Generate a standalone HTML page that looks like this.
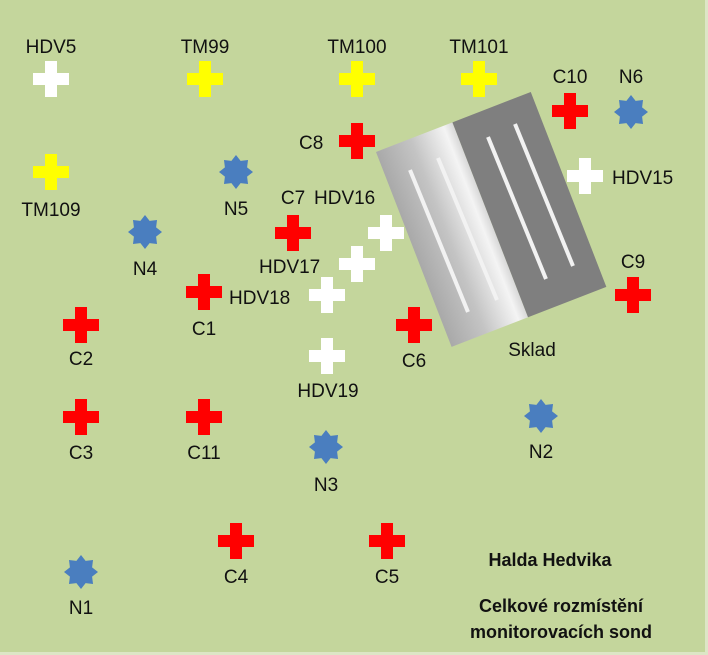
<!DOCTYPE html>
<html><head><meta charset="utf-8"><style>
html,body{margin:0;padding:0;background:#c4d69c;}
svg{display:block}
text{font-family:"Liberation Sans",sans-serif;font-size:19px;fill:#111;}
.b{font-weight:bold;font-size:18px}
</style></head><body>
<svg width="708" height="655" viewBox="0 0 708 655" xmlns="http://www.w3.org/2000/svg">
<defs>
<path id="cr" d="M-6,-18H6V-6H18V6H6V18H-6V6H-18V-6H-6Z"/>
<polygon id="st" points="0,-17 4.59,-11.09 12.02,-12.02 11.09,-4.59 17,0 11.09,4.59 12.02,12.02 4.59,11.09 0,17 -4.59,11.09 -12.02,12.02 -11.09,4.59 -17,0 -11.09,-4.59 -12.02,-12.02 -4.59,-11.09"/>
<linearGradient id="lg" x1="0" y1="0" x2="1" y2="0">
<stop offset="0" stop-color="#a9a9a9"/><stop offset="0.45" stop-color="#c4c4c4"/><stop offset="0.88" stop-color="#f4f4f4"/><stop offset="1" stop-color="#d8d8d8"/>
</linearGradient>
</defs>
<rect width="708" height="655" fill="#c4d69c"/>
<rect x="705" y="0" width="3" height="655" fill="#dde6c6"/>
<rect x="0" y="652" width="708" height="3" fill="#dde6c6"/>

<g transform="translate(376,152) rotate(-21.2)">
<rect x="0" y="0" width="82" height="209" fill="url(#lg)"/>
<rect x="82" y="0" width="84" height="209" fill="#7f7f7f"/>
</g>
<g stroke="#f2f2f2" stroke-width="4" stroke-linecap="butt">
<line x1="410" y1="170" x2="468" y2="312"/>
<line x1="438" y1="158" x2="497" y2="300"/>
<line x1="488" y1="137" x2="546" y2="279"/>
<line x1="515" y1="124" x2="573" y2="266"/>
</g>

<g fill="#ffffff">
<use href="#cr" x="51" y="79"/><use href="#cr" x="585" y="176"/><use href="#cr" x="386" y="233"/>
<use href="#cr" x="357" y="264"/><use href="#cr" x="327" y="295"/><use href="#cr" x="327" y="356"/>
</g>
<g fill="#ffff00">
<use href="#cr" x="205" y="79"/><use href="#cr" x="357" y="79"/><use href="#cr" x="479" y="79"/><use href="#cr" x="51" y="172"/>
</g>
<g fill="#ff0000">
<use href="#cr" x="570" y="111"/><use href="#cr" x="357" y="141"/><use href="#cr" x="293" y="233"/>
<use href="#cr" x="204" y="292"/><use href="#cr" x="633" y="295"/><use href="#cr" x="81" y="325"/>
<use href="#cr" x="414" y="325"/><use href="#cr" x="81" y="417"/><use href="#cr" x="204" y="417"/>
<use href="#cr" x="236" y="541"/><use href="#cr" x="387" y="541"/>
</g>
<g fill="#4a7ebf">
<use href="#st" x="631" y="112"/><use href="#st" x="236" y="172"/><use href="#st" x="145" y="232"/>
<use href="#st" x="541" y="416"/><use href="#st" x="326" y="447"/><use href="#st" x="81" y="572"/>
</g>

<g text-anchor="middle">
<text x="51" y="53">HDV5</text>
<text x="205" y="53">TM99</text>
<text x="357" y="53">TM100</text>
<text x="479" y="53">TM101</text>
<text x="570" y="83">C10</text>
<text x="631" y="83">N6</text>
<text x="51" y="216">TM109</text>
<text x="236" y="215">N5</text>
<text x="145" y="275">N4</text>
<text x="293" y="204">C7</text>
<text x="204" y="335">C1</text>
<text x="633" y="268">C9</text>
<text x="81" y="365">C2</text>
<text x="414" y="367">C6</text>
<text x="328" y="397">HDV19</text>
<text x="81" y="459">C3</text>
<text x="204" y="459">C11</text>
<text x="541" y="458">N2</text>
<text x="326" y="491">N3</text>
<text x="236" y="583">C4</text>
<text x="387" y="583">C5</text>
<text x="81" y="614">N1</text>
<text x="532" y="356">Sklad</text>
<text x="550" y="566" class="b">Halda Hedvika</text>
<text x="561" y="612" class="b">Celkové rozmístění</text>
<text x="561" y="638" class="b">monitorovacích sond</text>
</g>
<text x="299" y="149">C8</text>
<text x="612" y="184">HDV15</text>
<text x="314" y="204">HDV16</text>
<text x="259" y="273">HDV17</text>
<text x="229" y="304">HDV18</text>
</svg>
</body></html>
